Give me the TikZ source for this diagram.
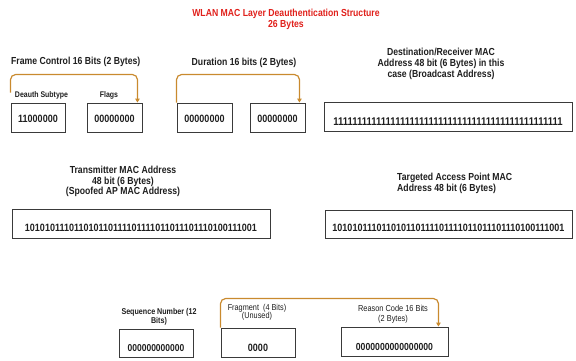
\documentclass[tikz,border=0pt]{standalone}
\usepackage{fontspec}
\setmainfont{Liberation Sans}[FakeStretch=0.85]
\usetikzlibrary{arrows.meta}
\definecolor{brk}{HTML}{C98A2E}
\definecolor{ttl}{HTML}{E0201B}
\definecolor{bx}{HTML}{3A3A3A}
\definecolor{txt}{HTML}{1E1E1E}
\begin{document}
\begin{tikzpicture}[x=1pt,y=-1pt,
  box/.style={draw=bx,line width=0.9pt,minimum width=#1,minimum height=29pt,inner sep=0pt},
  num/.style={font=\fontsize{10.6}{12}\selectfont\bfseries,text=txt,inner sep=0pt},
  lbl/.style={font=\fontsize{10.2}{10.8}\selectfont\bfseries,text=txt,inner sep=0pt,align=center},
  slbl/.style={font=\fontsize{8.2}{9}\selectfont\bfseries,text=txt,inner sep=0pt,align=center},
  blbl/.style={font=\fontsize{8.6}{9.5}\selectfont,text=txt,inner sep=0pt,align=center},
  bracket/.style={draw=brk,line width=1.2pt,rounded corners=5pt,-{Triangle[length=4pt,width=4.5pt]}}]
\useasboundingbox (0,0) rectangle (576,360);
% title
\node[font=\fontsize{10.2}{11}\selectfont\bfseries,text=ttl,align=center,inner sep=0pt] (title) at (286,19.5) {WLAN MAC Layer Deauthentication Structure\\26 Bytes};
% row 1 labels
\node[lbl,anchor=west] (fcl) at (11,62) {Frame Control 16 Bits (2 Bytes)};
\node[lbl] (durl) at (244,63) {Duration 16 bits (2 Bytes)};
\node[lbl,font=\fontsize{10.2}{11}\selectfont\bfseries] (destl) at (441,64) {Destination/Receiver MAC\\Address 48 bit (6 Bytes) in this\\case (Broadcast Address)};
\node[slbl] (dsl) at (41.5,95) {Deauth Subtype};
\node[slbl] (fll) at (109,95) {Flags};
% row 1 boxes
\node[box=54pt] (b1) at (38,117.5) {};
\node[box=55pt] (b2) at (114.5,117.5) {};
\node[box=55pt] (b3) at (204.5,117.5) {};
\node[box=55pt] (b4) at (277.5,117.5) {};
\node[box=248pt] (dest) at (448,117.2) {};
\node[num] (b1t) at ([yshift=-1.5pt]b1.center) {11000000};
\node[num] (b2t) at ([yshift=-1.5pt]b2.center) {00000000};
\node[num] (b3t) at ([yshift=-1.5pt]b3.center) {00000000};
\node[num] (b4t) at ([yshift=-1.5pt]b4.center) {00000000};
\node[num,font=\fontsize{11.2}{12}\selectfont\bfseries] (destt) at ([yshift=-4pt]dest.center) {111111111111111111111111111111111111111111111111};
% brackets row 1
\draw[bracket] ([yshift=10pt]b1.north west) -- ++(0,-18) -| ([xshift=-5pt]b2.north east);
\draw[bracket] (b3.north west) -- ++(0,-28) -| ([xshift=-6pt]b4.north east);
% row 2
\node[lbl] (trl) at (123,181.5) {Transmitter MAC Address\\48 bit (6 Bytes)\\(Spoofed AP MAC Address)};
\node[lbl,align=left,anchor=west] (tgl) at (397,183.5) {Targeted Access Point MAC\\Address 48 bit (6 Bytes)};
\node[box=258pt] (tr) at (141,223.5) {};
\node[box=247pt,minimum height=28pt] (tg) at (448.5,224) {};
\node[num] (trt) at ([yshift=-4.5pt]tr.center) {101010111011010110111101111011011101110100111001};
\node[num] (tgt) at ([yshift=-4pt]tg.center) {101010111011010110111101111011011101110100111001};
% row 3
\node[slbl,font=\fontsize{8.4}{7.8}\selectfont\bfseries] (sql) at (159,316.5) {Sequence Number (12\\Bits)};
\node[blbl,font=\fontsize{8.6}{8.2}\selectfont] (frl) at (257,312) {Fragment \ (4 Bits)\\(Unused)};
\node[blbl,font=\fontsize{8.7}{10}\selectfont] (rcl) at (393,314) {Reason Code 16 Bits\\(2 Bytes)};
\node[box=74pt,minimum height=28pt] (sq) at (156,343) {};
\node[box=74pt] (fr) at (258,342.5) {};
\node[box=107pt] (rc) at (394.5,341.5) {};
\node[num,font=\fontsize{10}{12}\selectfont\bfseries] (sqt) at ([yshift=-5pt]sq.center) {000000000000};
\node[num] (frt) at ([yshift=-5.5pt]fr.center) {0000};
\node[num,font=\fontsize{10.2}{12}\selectfont\bfseries] (rct) at ([yshift=-5.5pt]rc.center) {0000000000000000};
\draw[bracket] (fr.north west) -- ++(0,-29) -| ([xshift=-10pt]rc.north east);
\end{tikzpicture}
\end{document}
